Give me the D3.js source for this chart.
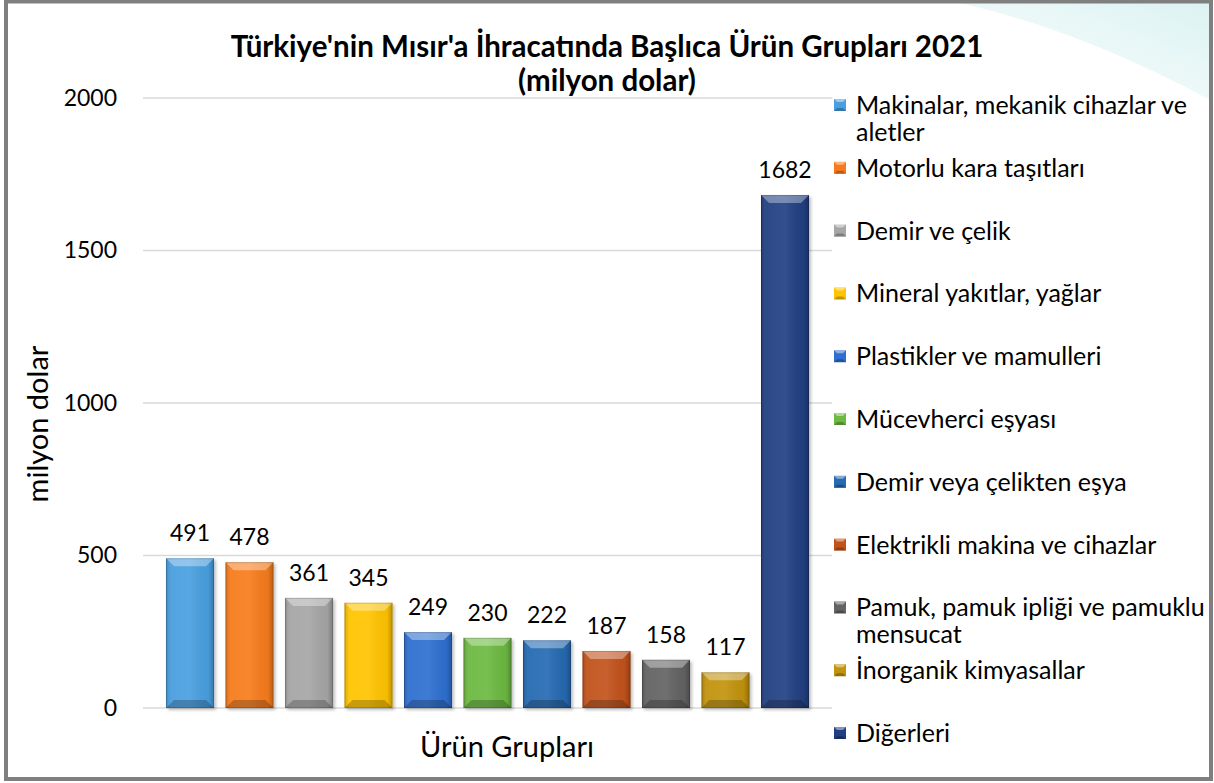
<!DOCTYPE html>
<html>
<head>
<meta charset="utf-8">
<script src="https://cdn.jsdelivr.net/npm/d3@7"></script>
<style>
  body { margin: 0; background: #fff; }
  svg { display: block; font-family: Lato, 'Open Sans', sans-serif; }
</style>
</head>
<body>
<svg id="chart"></svg>
<script>
const categories = [
  'Makinalar, mekanik cihazlar ve aletler',
  'Motorlu kara taşıtları',
  'Demir ve çelik',
  'Mineral yakıtlar, yağlar',
  'Plastikler ve mamulleri',
  'Mücevherci eşyası',
  'Demir veya çelikten eşya',
  'Elektrikli makina ve cihazlar',
  'Pamuk, pamuk ipliği ve pamuklu mensucat',
  'İnorganik kimyasallar',
  'Diğerleri'
];
const values = [491, 478, 361, 345, 249, 230, 222, 187, 158, 117, 1682];
const colors = [
  '#4a9fe0', '#f77b1c', '#a6a6a6', '#ffc400', '#2f6fd0', '#6cba43',
  '#276ab2', '#c2521a', '#646464', '#c29311', '#203f82'
];
const yTicks = [0, 500, 1000, 1500, 2000];

const width = 1214;
const height = 783;

const svg = d3.select('#chart')
  .attr('width', width)
  .attr('height', height);

const defs = svg.append('defs');

// side shading for the bevelled bars
const shade = defs.append('linearGradient')
  .attr('id', 'shade')
  .attr('x1', 0).attr('x2', 1).attr('y1', 0).attr('y2', 0);
shade.append('stop').attr('offset', 0).attr('stop-color', '#000').attr('stop-opacity', 0.18);
shade.append('stop').attr('offset', 0.12).attr('stop-color', '#fff').attr('stop-opacity', 0.05);
shade.append('stop').attr('offset', 0.5).attr('stop-color', '#fff').attr('stop-opacity', 0.08);
shade.append('stop').attr('offset', 0.88).attr('stop-color', '#000').attr('stop-opacity', 0.04);
shade.append('stop').attr('offset', 1).attr('stop-color', '#000').attr('stop-opacity', 0.25);

const swoosh = defs.append('linearGradient')
  .attr('id', 'swoosh')
  .attr('x1', 0).attr('x2', 1).attr('y1', 1).attr('y2', 0);
swoosh.append('stop').attr('offset', 0).attr('stop-color', '#ffffff');
swoosh.append('stop').attr('offset', 1).attr('stop-color', '#dcf2f2');

defs.append('filter')
  .attr('id', 'drop')
  .attr('x', '-20%').attr('y', '-10%').attr('width', '150%').attr('height', '130%')
  .append('feDropShadow')
    .attr('dx', 2).attr('dy', 2).attr('stdDeviation', 1.5)
    .attr('flood-color', '#000').attr('flood-opacity', 0.25);

// background + decoration
svg.append('rect')
  .attr('width', width).attr('height', height)
  .attr('fill', '#fff');
svg.append('path')
  .attr('d', 'M 960 3 L 1210 3 L 1210 100 Q 1080 30 960 3 Z')
  .attr('fill', 'url(#swoosh)');

const x = d3.scaleBand()
  .domain(categories)
  .range([160.25, 814.75])
  .paddingInner(0.193)
  .paddingOuter(0.0965);

const y = d3.scaleLinear()
  .domain([0, 2000])
  .range([708, 98]);

// gridlines
svg.append('g')
  .selectAll('line')
  .data(yTicks)
  .join('line')
    .attr('x1', 143)
    .attr('x2', 832)
    .attr('y1', d => y(d))
    .attr('y2', d => y(d))
    .attr('stroke', '#d9d9d9')
    .attr('stroke-width', 1.5);

// y labels
const yAxis = d3.axisLeft(y)
  .tickValues(yTicks)
  .tickFormat(d3.format('d'))
  .tickSize(0)
  .tickPadding(0);
svg.append('g')
  .attr('transform', 'translate(117, 0)')
  .call(yAxis)
  .call(g => g.select('.domain').remove())
  .selectAll('text')
    .attr('font-family', 'Lato, sans-serif')
    .attr('font-size', 23)
    .attr('fill', '#000');

// bars
const bev = 8;
const bars = svg.append('g')
  .selectAll('g')
  .data(categories)
  .join('g');

bars.append('rect')
  .attr('x', d => x(d))
  .attr('y', (d, i) => y(values[i]))
  .attr('width', x.bandwidth())
  .attr('height', (d, i) => y(0) - y(values[i]))
  .attr('fill', (d, i) => colors[i])
  .attr('filter', 'url(#drop)');

bars.append('rect')
  .attr('x', d => x(d))
  .attr('y', (d, i) => y(values[i]))
  .attr('width', x.bandwidth())
  .attr('height', (d, i) => y(0) - y(values[i]))
  .attr('fill', 'url(#shade)');

// top bevel
bars.append('path')
  .attr('d', (d, i) => {
    const x0 = x(d), x1 = x(d) + x.bandwidth(), t = y(values[i]);
    return `M${x0},${t} L${x1},${t} L${x1 - bev},${t + bev} L${x0 + bev},${t + bev} Z`;
  })
  .attr('fill', '#fff')
  .attr('fill-opacity', 0.35);

// bottom bevel
bars.append('path')
  .attr('d', d => {
    const x0 = x(d), x1 = x(d) + x.bandwidth(), b = y(0);
    return `M${x0},${b} L${x1},${b} L${x1 - bev},${b - bev} L${x0 + bev},${b - bev} Z`;
  })
  .attr('fill', '#000')
  .attr('fill-opacity', 0.22);

// outline
bars.append('rect')
  .attr('x', d => x(d) + 0.5)
  .attr('y', (d, i) => y(values[i]) + 0.5)
  .attr('width', x.bandwidth() - 1)
  .attr('height', (d, i) => y(0) - y(values[i]) - 1)
  .attr('fill', 'none')
  .attr('stroke', '#000')
  .attr('stroke-opacity', 0.15);

// value labels
bars.append('text')
  .attr('x', d => x(d) + x.bandwidth() / 2)
  .attr('y', (d, i) => y(values[i]) - 17)
  .attr('text-anchor', 'middle')
  .attr('font-size', 23)
  .attr('fill', '#000')
  .text((d, i) => values[i]);

// titles
svg.append('text')
  .attr('x', 607)
  .attr('y', 57)
  .attr('text-anchor', 'middle')
  .attr('font-size', 29.5)
  .attr('font-weight', 'bold')
  .text("Türkiye'nin Mısır'a İhracatında Başlıca Ürün Grupları 2021");
svg.append('text')
  .attr('x', 607)
  .attr('y', 91)
  .attr('text-anchor', 'middle')
  .attr('font-size', 29.5)
  .attr('font-weight', 'bold')
  .text('(milyon dolar)');

svg.append('text')
  .attr('transform', 'translate(48, 424) rotate(-90)')
  .attr('text-anchor', 'middle')
  .attr('font-size', 29)
  .text('milyon dolar');

svg.append('text')
  .attr('x', 507)
  .attr('y', 757)
  .attr('text-anchor', 'middle')
  .attr('font-size', 29)
  .text('Ürün Grupları');

// legend
const legendStep = 62.8;
const lineH = 27;
const legend = svg.append('g')
  .selectAll('g')
  .data(categories)
  .join('g')
    .attr('transform', (d, i) => `translate(834, ${105 + i * legendStep})`);

legend.append('rect')
  .attr('x', 0).attr('y', -6)
  .attr('width', 12).attr('height', 12)
  .attr('fill', (d, i) => colors[i]);
legend.append('path')
  .attr('d', 'M0,-6 L12,-6 L9,-3 L3,-3 Z')
  .attr('fill', '#fff')
  .attr('fill-opacity', 0.45);
legend.append('path')
  .attr('d', 'M0,6 L12,6 L9,3 L3,3 Z')
  .attr('fill', '#000')
  .attr('fill-opacity', 0.25);

legend.append('text')
  .attr('x', 22)
  .attr('y', 9)
  .attr('font-size', 25)
  .attr('fill', '#000')
  .each(function(d) {
    const el = d3.select(this);
    const words = d.split(' ');
    let line = [];
    let tspan = el.append('tspan').attr('x', 22).attr('dy', 0);
    words.forEach(w => {
      line.push(w);
      tspan.text(line.join(' '));
      if (tspan.node().getComputedTextLength() > 355 && line.length > 1) {
        line.pop();
        tspan.text(line.join(' '));
        line = [w];
        tspan = el.append('tspan').attr('x', 22).attr('dy', lineH).text(w);
      }
    });
  });

// frame
svg.append('rect')
  .attr('x', 6)
  .attr('y', 1.5)
  .attr('width', 1205)
  .attr('height', 777.5)
  .attr('fill', 'none')
  .attr('stroke', '#7f7f7f')
  .attr('stroke-width', 4);
</script>
</body>
</html>
